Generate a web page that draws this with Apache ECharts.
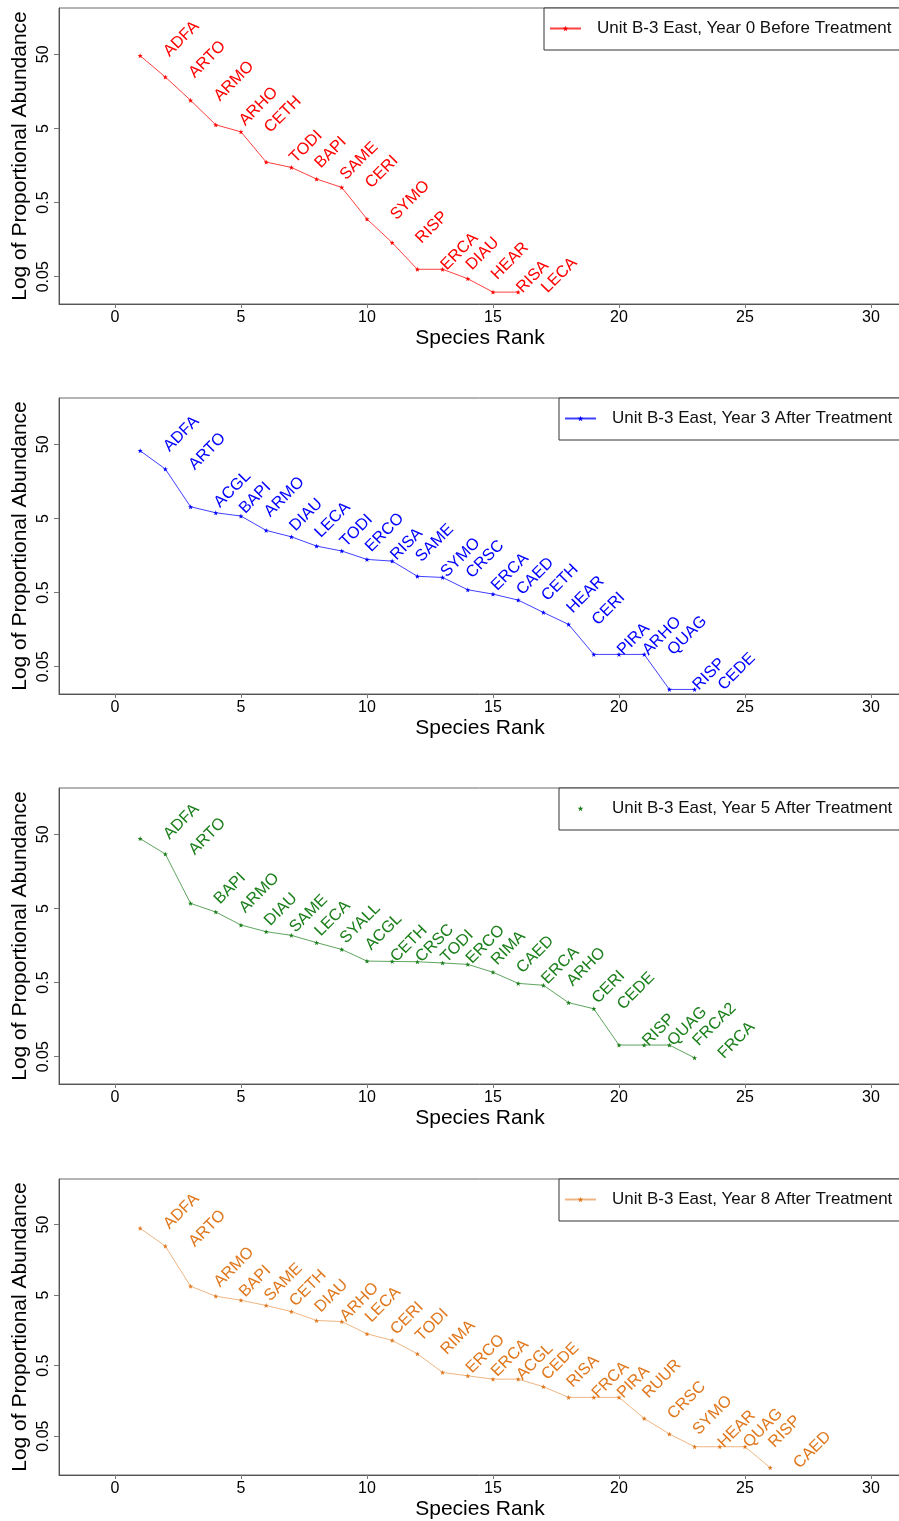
<!DOCTYPE html>
<html>
<head>
<meta charset="utf-8">
<script src="https://cdn.jsdelivr.net/npm/echarts@6/dist/echarts.min.js"></script>
<style>
html,body{margin:0;padding:0;background:#fff;}
#chart{width:899px;height:1521px;}
</style>
</head>
<body>
<div id="chart"></div>
<script>
// ---- data ----
var seriesNames = [
  'Unit B-3 East, Year 0 Before Treatment',
  'Unit B-3 East, Year 3 After Treatment',
  'Unit B-3 East, Year 5 After Treatment',
  'Unit B-3 East, Year 8 After Treatment'
];
var species0 = ['ADFA','ARTO','ARMO','ARHO','CETH','TODI','BAPI','SAME','CERI','SYMO','RISP','ERCA','DIAU','HEAR','RISA','LECA'];
var abund0 = [47.9,24.7,12.0,5.6,4.5,1.76,1.49,1.04,0.80,0.30,0.144,0.063,0.063,0.047,0.031,0.031];

var species3 = ['ADFA','ARTO','ACGL','BAPI','ARMO','DIAU','LECA','TODI','ERCO','RISA','SAME','SYMO','CRSC','ERCA','CAED','CETH','HEAR','CERI','PIRA','ARHO','QUAG','RISP','CEDE'];
var abund3 = [41.0,23.2,7.19,5.97,5.39,3.45,2.83,2.12,1.82,1.40,1.33,0.83,0.80,0.546,0.477,0.396,0.270,0.186,0.0733,0.0733,0.0733,0.0247,0.0247];

var species5 = ['ADFA','ARTO','BAPI','ARMO','DIAU','SAME','LECA','SYALL','ACGL','CETH','CRSC','TODI','ERCO','RIMA','CAED','ERCA','ARHO','CERI','CEDE','RISP','QUAG','FRCA2','FRCA'];
var abund5 = [43.8,27.1,5.86,4.48,2.99,2.43,2.17,1.73,1.40,0.975,0.965,0.955,0.92,0.88,0.69,0.488,0.46,0.268,0.222,0.0718,0.0718,0.0718,0.0483];

var species8 = ['ADFA','ARTO','ARMO','BAPI','SAME','CETH','DIAU','ARHO','LECA','CERI','TODI','RIMA','ERCO','ERCA','ACGL','CEDE','RISA','FRCA','PIRA','RUUR','CRSC','SYMO','HEAR','QUAG','RISP','CAED'];
var abund8 = [44.4,24.7,6.68,4.82,4.23,3.56,2.92,2.18,2.11,1.41,1.14,0.735,0.40,0.358,0.321,0.321,0.251,0.177,0.177,0.177,0.089,0.0535,0.0353,0.0353,0.0353,0.0178];

var xTicks = [0,5,10,15,20,25,30];
var yTicks = [0.05,0.5,5,50];
var yTickLabels = ['0.05','0.5','5','50'];

// ---- styling / layout ----
var FONT = 'Liberation Sans, Arial, sans-serif';
var colors = ['#FF0000','#0000FF','#1A7F1A','#E0781E'];
var lineOpacity = [0.75,0.75,0.7,0.55];
var panelTops = [8,398,788,1179];
var yRanges = [[0.02143,210.9],[0.02143,210.9],[0.02143,210.9],[0.01403,221.8]];
var legendLefts = [544,559,559,559];
var legendTextGap = [11,11,11,11];
var speciesSets = [species0,species3,species5,species8];
var abundSets = [abund0,abund3,abund5,abund8];

var STAR = 'path://M0,-10L2.35,-3.24L9.51,-3.09L3.8,1.24L5.88,8.09L0,4L-5.88,8.09L-3.8,1.24L-9.51,-3.09L-2.35,-3.24Z';
var SYM = 5;

var grids=[], xAxes=[], yAxes=[], series=[], legends=[];
for (var i=0;i<4;i++){
  grids.push({left:59, top:panelTops[i], width:842, height:296, show:true, borderColor:'#6a6a6a', borderWidth:1,
    containLabel:false, outerBoundsMode:'none'});
  xAxes.push({
    type:'value', gridIndex:i, min:-2.22, max:31.19,
    name:'Species Rank', nameLocation:'middle', nameGap:24, nameMoveOverlap:false,
    nameTextStyle:{fontSize:21, color:'#000', fontFamily:FONT},
    axisLine:{show:true, onZero:false, lineStyle:{color:'#555', width:1}},
    axisTick:{show:true, length:4, lineStyle:{color:'#777'}, customValues:xTicks},
    axisLabel:{fontSize:16, color:'#000', fontFamily:FONT, margin:6, customValues:xTicks},
    splitLine:{show:false}
  });
  yAxes.push({
    type:'log', logBase:10, gridIndex:i, min:yRanges[i][0], max:yRanges[i][1],
    name:'Log of Proportional Abundance', nameLocation:'middle', nameGap:28, nameRotate:90, nameMoveOverlap:false,
    nameTextStyle:{fontSize:21, color:'#000', fontFamily:FONT},
    axisLine:{show:true, onZero:false, lineStyle:{color:'#555', width:1}},
    axisTick:{show:true, length:5, lineStyle:{color:'#777'}, customValues:yTicks},
    axisLabel:{fontSize:16, color:'#000', fontFamily:FONT, rotate:90, margin:7, customValues:yTicks,
      formatter:function(v){
        for (var k=0;k<yTicks.length;k++){ if (Math.abs(Math.log10(v)-Math.log10(yTicks[k]))<1e-6) return yTickLabels[k]; }
        return '';
      }},
    splitLine:{show:false}
  });
  (function(i){
    var names = speciesSets[i];
    var data = abundSets[i].map(function(v,k){ return [k+1, v]; });
    series.push({
      name: seriesNames[i], type:'line', xAxisIndex:i, yAxisIndex:i,
      data:data, symbol:STAR, symbolSize:SYM, showSymbol:true,
      itemStyle:{color:colors[i]},
      lineStyle:{color:colors[i], width:1, opacity:lineOpacity[i]},
      label:{show:true, position:'right', distance:28 - SYM/2, rotate:45,
        align:'left', verticalAlign:'bottom', lineHeight:5,
        fontSize:16.3, fontFamily:FONT, color:colors[i],
        formatter:function(p){ return names[p.dataIndex]; }},
      emphasis:{disabled:true}, animation:false, silent:true, z:3
    });
  })(i);
  legends.push({
    data:[seriesNames[i]], left:legendLefts[i], top:panelTops[i], orient:'horizontal',
    itemWidth:31, itemHeight:7, padding:[12,30,13,5],
    borderColor:'#333', borderWidth:1, backgroundColor:'#fff', borderRadius:0,
    selectedMode:false,
    lineStyle: i===2 ? {opacity:0} : {opacity: lineOpacity[i]},
    textStyle:{fontSize:17, color:'#111', fontFamily:FONT, padding:[0,0,0,legendTextGap[i]]}
  });
}

var chart = echarts.init(document.getElementById('chart'), null, {renderer:'canvas'});
chart.setOption({
  backgroundColor:'#fff', animation:false,
  grid:grids, xAxis:xAxes, yAxis:yAxes, legend:legends, series:series
});
</script>
</body>
</html>
